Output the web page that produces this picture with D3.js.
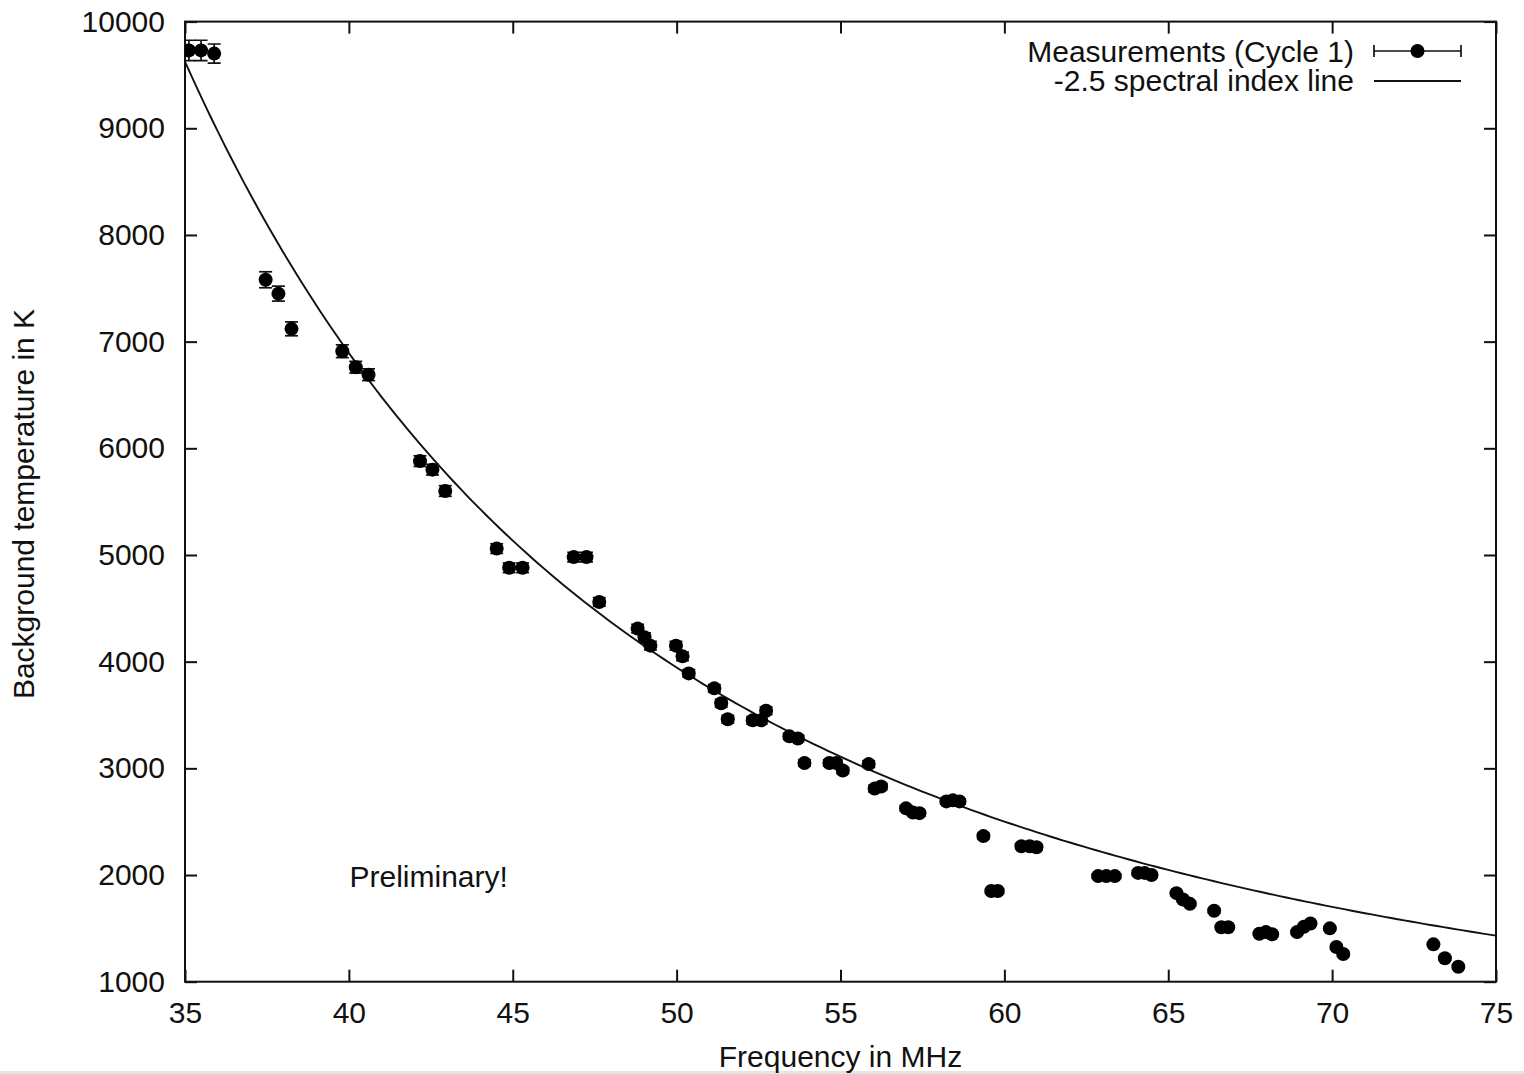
<!DOCTYPE html>
<html>
<head>
<meta charset="utf-8">
<script src="https://cdn.jsdelivr.net/npm/d3@7"></script>
<style>
  html, body { margin: 0; padding: 0; background: #fff; }
  svg { display: block; }
  text { font-family: "Liberation Sans", Arial, Helvetica, sans-serif; fill: #111; }
</style>
</head>
<body>
<svg id="chart" width="1524" height="1074"></svg>
<script>
// Background temperature measurements (Cycle 1)
const freqMHz = [
  35.12, 35.49, 35.89, 37.46, 37.85, 38.25, 39.80, 40.21, 40.60, 42.17,
  42.55, 42.94, 44.51, 44.89, 45.30, 46.86, 47.25, 47.64, 48.81, 49.02,
  49.20, 49.98, 50.18, 50.37, 51.15, 51.36, 51.56, 52.32, 52.58, 52.73,
  53.44, 53.70, 53.90, 54.66, 54.87, 55.07, 55.86, 56.04, 56.24, 57.00,
  57.21, 57.41, 58.23, 58.43, 58.63, 59.36, 59.60, 59.80, 60.52, 60.77,
  60.98, 62.86, 63.11, 63.37, 64.08, 64.28, 64.49, 65.25, 65.45, 65.66,
  66.40, 66.62, 66.83, 67.78, 67.98, 68.17, 68.93, 69.14, 69.34, 69.93,
  70.13, 70.34, 73.09, 73.44, 73.85
];
const tempK = [
  9730, 9730, 9700, 7580, 7450, 7120, 6910, 6760, 6690, 5880,
  5800, 5600, 5060, 4880, 4880, 4980, 4980, 4560, 4310, 4230,
  4150, 4150, 4050, 3890, 3750, 3610, 3460, 3450, 3450, 3540,
  3300, 3280, 3050, 3050, 3050, 2980, 3040, 2810, 2830, 2625,
  2585, 2580, 2690, 2700, 2690, 2365, 1850, 1850, 2270, 2270,
  2260, 1990, 1990, 1990, 2020, 2020, 2000, 1830, 1770, 1730,
  1665, 1510, 1510, 1450, 1465, 1445, 1465, 1515, 1545, 1500,
  1325, 1260, 1350, 1220, 1140
];
const tempErrK = [
  95, 95, 90, 75, 70, 65, 60, 55, 55, 50,
  50, 50, 45, 45, 45, 45, 45, 40, 40, 40,
  40, 40, 40, 35, 35, 35, 35, 35, 35, 35,
  30, 30, 30, 30, 30, 30, 30, 30, 30, 25,
  25, 25, 25, 25, 25, 25, 20, 20, 25, 25,
  25, 20, 20, 20, 20, 20, 20, 20, 20, 20,
  20, 15, 15, 15, 15, 15, 15, 15, 15, 15,
  15, 15, 15, 15, 15
];

// Power-law reference line: T = T0 * (f / f0)^index
const spectralIndex = -2.5;
const lineRefFreq = 35;
const lineRefTemp = 9625;

const xTicks = [35, 40, 45, 50, 55, 60, 65, 70, 75];
const yTicks = [1000, 2000, 3000, 4000, 5000, 6000, 7000, 8000, 9000, 10000];

const legendLabels = ["Measurements (Cycle 1)", "-2.5 spectral index line"];
const noteText = "Preliminary!";
const xTitle = "Frequency in MHz";
const yTitle = "Background temperature in K";

const svg = d3.select("#chart");
const W = 1524, H = 1074;
const plot = { left: 185, right: 1496, top: 21.6, bottom: 981.7 };
const FS = 30;

const x = d3.scaleLinear().domain([35, 75]).range([plot.left, plot.right]);
const y = d3.scaleLinear().domain([1000, 10000]).range([plot.bottom, plot.top]);

svg.append("rect").attr("width", W).attr("height", H).attr("fill", "#fff");
// thin grey strip along the bottom edge
svg.append("rect").attr("x", 0).attr("y", 1071).attr("width", W).attr("height", 3).attr("fill", "#e4e4e4");

svg.append("defs").append("clipPath").attr("id", "plotclip")
  .append("rect")
  .attr("x", plot.left).attr("y", plot.top)
  .attr("width", plot.right - plot.left).attr("height", plot.bottom - plot.top);

// axes with inward ticks, mirrored on top and right
function styleAxis(g) {
  g.selectAll(".domain").remove();
  g.selectAll(".tick line").attr("stroke", "#111").attr("stroke-width", 2);
  g.selectAll(".tick text").style("font-size", FS + "px").attr("fill", "#111")
    .style("font-family", '"Liberation Sans", Arial, sans-serif');
}
const fmt = d3.format("d");
svg.append("g").attr("transform", `translate(0,${plot.bottom})`)
  .call(d3.axisBottom(x).tickValues(xTicks).tickFormat(fmt).tickSizeInner(-12).tickSizeOuter(0).tickPadding(20))
  .call(styleAxis);
svg.append("g").attr("transform", `translate(0,${plot.top})`)
  .call(d3.axisTop(x).tickValues(xTicks).tickSizeInner(-12).tickSizeOuter(0).tickFormat(""))
  .call(styleAxis);
svg.append("g").attr("transform", `translate(${plot.left},0)`)
  .call(d3.axisLeft(y).tickValues(yTicks).tickFormat(fmt).tickSizeInner(-12).tickSizeOuter(0).tickPadding(20))
  .call(styleAxis);
svg.append("g").attr("transform", `translate(${plot.right},0)`)
  .call(d3.axisRight(y).tickValues(yTicks).tickSizeInner(-12).tickSizeOuter(0).tickFormat(""))
  .call(styleAxis);

// plot frame
svg.append("rect")
  .attr("x", plot.left).attr("y", plot.top)
  .attr("width", plot.right - plot.left).attr("height", plot.bottom - plot.top)
  .attr("fill", "none").attr("stroke", "#111").attr("stroke-width", 2);

// spectral index line
const curveFreqs = d3.range(35, 75.001, 0.2);
const curve = d3.line()
  .x(f => x(f))
  .y(f => y(lineRefTemp * Math.pow(f / lineRefFreq, spectralIndex)));
svg.append("path")
  .attr("clip-path", "url(#plotclip)")
  .attr("d", curve(curveFreqs))
  .attr("fill", "none").attr("stroke", "#111").attr("stroke-width", 1.9);

// measurements with vertical error bars
const pts = freqMHz.map((f, i) => ({ f, t: tempK[i], e: tempErrK[i] }));
const capHalf = 6.5;
const gPts = svg.append("g").attr("clip-path", "url(#plotclip)");
const bars = gPts.selectAll("g.err").data(pts).join("g").attr("class", "err")
  .attr("stroke", "#111").attr("stroke-width", 1.7);
bars.append("line")
  .attr("x1", d => x(d.f)).attr("x2", d => x(d.f))
  .attr("y1", d => y(d.t - d.e)).attr("y2", d => y(d.t + d.e));
bars.append("line")
  .attr("x1", d => x(d.f) - capHalf).attr("x2", d => x(d.f) + capHalf)
  .attr("y1", d => y(d.t + d.e)).attr("y2", d => y(d.t + d.e));
bars.append("line")
  .attr("x1", d => x(d.f) - capHalf).attr("x2", d => x(d.f) + capHalf)
  .attr("y1", d => y(d.t - d.e)).attr("y2", d => y(d.t - d.e));
gPts.selectAll("circle").data(pts).join("circle")
  .attr("cx", d => x(d.f)).attr("cy", d => y(d.t)).attr("r", 7)
  .attr("fill", "#000");

// legend
const lg = svg.append("g");
const lgTextX = 1354, lgX1 = 1374, lgX2 = 1461;
const rowY = [51, 81];
const rowBase = [61.5, 91];
lg.selectAll("text").data(legendLabels).join("text")
  .attr("x", lgTextX).attr("y", (d, i) => rowBase[i])
  .attr("text-anchor", "end").style("font-size", FS + "px")
  .text(d => d);
lg.append("line").attr("x1", lgX1).attr("x2", lgX2).attr("y1", rowY[0]).attr("y2", rowY[0])
  .attr("stroke", "#111").attr("stroke-width", 1.7);
[lgX1, lgX2].forEach(cx => lg.append("line")
  .attr("x1", cx).attr("x2", cx).attr("y1", rowY[0] - 6).attr("y2", rowY[0] + 6)
  .attr("stroke", "#111").attr("stroke-width", 1.7));
lg.append("circle").attr("cx", (lgX1 + lgX2) / 2).attr("cy", rowY[0]).attr("r", 7).attr("fill", "#000");
lg.append("line").attr("x1", lgX1).attr("x2", lgX2).attr("y1", rowY[1]).attr("y2", rowY[1])
  .attr("stroke", "#111").attr("stroke-width", 1.9);

// annotation and axis titles
svg.append("text").attr("x", 349.5).attr("y", 886.5).style("font-size", FS + "px").text(noteText);
svg.append("text").attr("x", 840.5).attr("y", 1066.5)
  .attr("text-anchor", "middle").style("font-size", FS + "px").text(xTitle);
svg.append("text").attr("transform", `translate(33.5,504) rotate(-90)`)
  .attr("text-anchor", "middle").style("font-size", FS + "px").text(yTitle);
</script>
</body>
</html>
